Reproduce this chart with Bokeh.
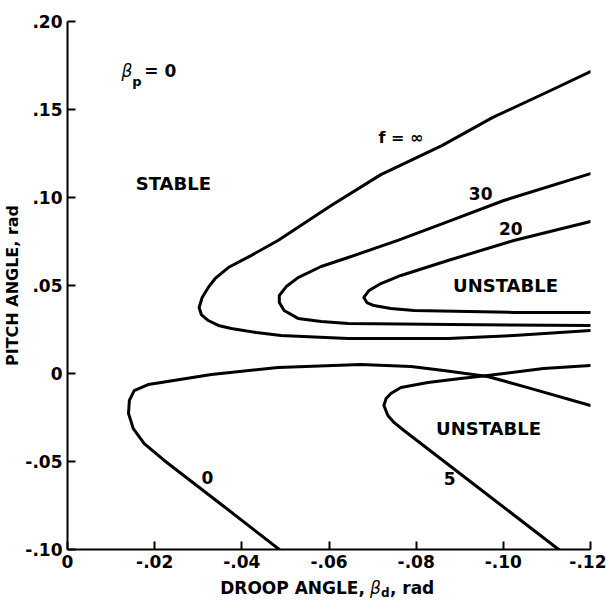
import math
from bokeh.plotting import figure
from bokeh.layouts import column
from bokeh.models import Range1d, FixedTicker, CustomJSTickFormatter, Label
from bokeh.embed import file_html
from bokeh.resources import INLINE

# ---- data ----
x_ticks = [0, -0.02, -0.04, -0.06, -0.08, -0.10, -0.12]
y_ticks = [-0.10, -0.05, 0, 0.05, 0.10, 0.15, 0.20]

# f = infinity curve
finf_x = [-0.1200, -0.1106, -0.0976, -0.0859, -0.0719, -0.0605, -0.0483, -0.0421, -0.0369,
          -0.0339, -0.0323, -0.0309, -0.0302, -0.0307, -0.0323, -0.0346, -0.0376, -0.0433,
          -0.0490, -0.0644, -0.0873, -0.1024, -0.1200]
finf_y = [0.1716, 0.1605, 0.1455, 0.1295, 0.1130, 0.0955, 0.0756, 0.0670, 0.0602,
          0.0540, 0.0489, 0.0432, 0.0375, 0.0335, 0.0301, 0.0273, 0.0256, 0.0233,
          0.0216, 0.0199, 0.0199, 0.0216, 0.0244]

# f = 30 curve
f30_x = [-0.1200, -0.1001, -0.0879, -0.0758, -0.0644, -0.0582, -0.0529, -0.0502, -0.0486,
         -0.0486, -0.0497, -0.0529, -0.0582, -0.0644, -0.0879, -0.1200]
f30_y = [0.1136, 0.0983, 0.0869, 0.0756, 0.0659, 0.0608, 0.0545, 0.0494, 0.0443,
         0.0403, 0.0358, 0.0313, 0.0295, 0.0284, 0.0278, 0.0273]

# f = 20 curve
f20_x = [-0.1200, -0.1024, -0.0873, -0.0765, -0.0719, -0.0692, -0.0680, -0.0687, -0.0703,
         -0.0742, -0.0795, -0.1024, -0.1200]
f20_y = [0.0864, 0.0756, 0.0642, 0.0557, 0.0511, 0.0472, 0.0432, 0.0403, 0.0386,
         0.0369, 0.0358, 0.0347, 0.0347]

# f = 0 curve
f0_x = [-0.0486, -0.0353, -0.0222, -0.0176, -0.0151, -0.0140, -0.0142, -0.0153, -0.0185,
        -0.0215, -0.0330, -0.0483, -0.0673, -0.0788, -0.0863, -0.0964, -0.1056, -0.1200]
f0_y = [-0.1000, -0.0744, -0.0494, -0.0398, -0.0313, -0.0227, -0.0153, -0.0097, -0.0063,
        -0.0051, -0.0006, 0.0034, 0.0051, 0.0040, 0.0017, -0.0017, -0.0080, -0.0182]

# f = 5 curve
f5_x = [-0.1127, -0.0948, -0.0772, -0.0749, -0.0735, -0.0726, -0.0731, -0.0742, -0.0765,
        -0.0827, -0.0902, -0.0964, -0.1092, -0.1200]
f5_y = [-0.1000, -0.0659, -0.0324, -0.0278, -0.0239, -0.0182, -0.0142, -0.0114, -0.0080,
        -0.0051, -0.0028, -0.0011, 0.0028, 0.0045]

FONT = "DejaVu Sans"

p = figure(width=606, height=575, output_backend="svg", toolbar_location=None,
           x_range=Range1d(0, -0.12), y_range=Range1d(-0.10, 0.20),
           min_border_left=66, min_border_right=16, min_border_top=21, min_border_bottom=26)
p.background_fill_color = "white"
p.border_fill_color = "white"
p.outline_line_color = None
p.grid.visible = False

fmt = CustomJSTickFormatter(code="""
if (Math.abs(tick) < 1e-9) { return "0"; }
var s = Math.abs(tick).toFixed(2).replace(/^0/, "");
return (tick < 0 ? "-" : "") + s;
""")

for ax, ticks in ((p.xaxis, x_ticks), (p.yaxis, y_ticks)):
    ax.ticker = FixedTicker(ticks=ticks)
    ax.formatter = fmt
    ax.major_tick_in = 8
    ax.major_tick_out = 0
    ax.minor_tick_line_color = None
    ax.axis_line_width = 2
    ax.major_tick_line_width = 2
    ax.axis_line_color = "black"
    ax.major_tick_line_color = "black"
    ax.major_label_text_font = FONT
    ax.major_label_text_font_style = "bold"
    ax.major_label_text_font_size = "17px"
    ax.major_label_text_color = "black"
p.xaxis.major_label_standoff = 5
p.yaxis.major_label_standoff = 5

p.yaxis.axis_label = "PITCH ANGLE, rad"
p.yaxis.axis_label_text_font = FONT
p.yaxis.axis_label_text_font_style = "bold"
p.yaxis.axis_label_text_font_size = "16px"
p.yaxis.axis_label_text_color = "black"
p.yaxis.axis_label_standoff = 0

for xs, ys in ((finf_x, finf_y), (f30_x, f30_y), (f20_x, f20_y), (f0_x, f0_y), (f5_x, f5_y)):
    p.line(xs, ys, line_color="black", line_width=3, line_join="round", line_cap="round")


def lab(fig, text, x, y, size="18px", style="bold", align="center", baseline="middle"):
    fig.add_layout(Label(x=x, y=y, text=text,
                         text_font=FONT, text_font_style=style, text_font_size=size,
                         text_align=align, text_baseline=baseline, text_color="black"))


def px2x(px):
    # canvas pixel column -> droop angle (frame spans 66..590 px)
    return -(px - 66) / 524.0 * 0.12


# region labels
lab(p, "STABLE", -0.0243, 0.108, "18px")
lab(p, "UNSTABLE", -0.1005, 0.050, "18px")
lab(p, "UNSTABLE", -0.0966, -0.031, "18px")
# curve labels
lab(p, "f = \u221e", -0.0765, 0.134, "16px")
lab(p, "30", -0.0948, 0.1023, "17px")
lab(p, "20", -0.1017, 0.0824, "17px")
lab(p, "0", -0.0321, -0.0591, "17px")
lab(p, "5", -0.0877, -0.0597, "17px")
# beta_p = 0
lab(p, "\u03b2", -0.01363, 0.1716, "17px", style="italic")
lab(p, "p", -0.01592, 0.1660, "13px")
lab(p, "= 0", -0.01763, 0.1716, "17px", align="left")

# strip below the chart holding the x-axis title with its subscript
b = figure(width=606, height=25, output_backend="svg", toolbar_location=None,
           x_range=p.x_range, y_range=Range1d(25, 0),
           min_border=0, x_axis_location=None, y_axis_location=None)
b.outline_line_color = None
b.grid.visible = False
b.background_fill_color = "white"
b.border_fill_color = "white"
lab(b, "DROOP ANGLE,", px2x(219), 12, "17px", align="left")
lab(b, "\u03b2", px2x(369), 12, "17px", style="italic", align="left")
lab(b, "d", px2x(380), 17, "12px", align="left")
lab(b, ", rad", px2x(389), 12, "17px", align="left")

layout = column(p, b, spacing=0)
open("out.html", "w").write(file_html(layout, INLINE))
